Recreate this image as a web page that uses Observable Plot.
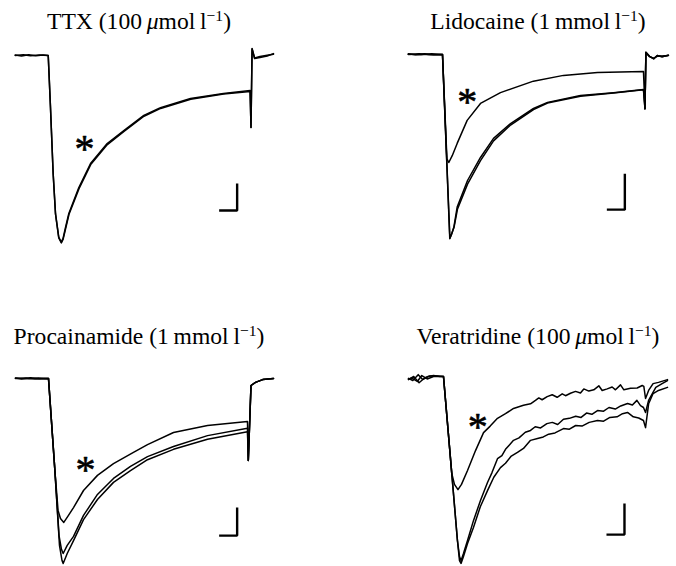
<!DOCTYPE html>
<html>
<head>
<meta charset="utf-8">
<script src="https://cdn.jsdelivr.net/npm/d3@7"></script>
<script src="https://cdn.jsdelivr.net/npm/@observablehq/plot@0.6"></script>
<style>
  body { margin: 0; background: #fff; }
  #wrap { position: relative; width: 676px; height: 566px; overflow: hidden; background: #fff;
          font-family: "Liberation Serif", "Times New Roman", serif; color: #000; }
  .title { position: absolute; width: 340px; text-align: center; font-size: 23.6px; line-height: 23px; white-space: nowrap; }
  .title sup { font-size: 0.66em; vertical-align: 0; position: relative; top: -0.5em; line-height: 0; }
  .panel { position: absolute; }
</style>
</head>
<body>
<div id="wrap"></div>
<script>
// ---- Panel labels ----
const panelDrugs = ["TTX", "Lidocaine", "Procainamide", "Veratridine"];
const panelDoses = ["100", "1", "1", "100"];
const panelUnits = ["μmol", "mmol", "mmol", "μmol"];

// ---- Current traces: [time (ms from pulse onset), current (nA)] ----
// TTX (100 µmol l-1): control and drug traces superimpose
const ttxControl = [
  [-3.7, 0.02], [-3.0, -0.02], [-2.2, 0.03], [-1.4, -0.01], [-0.6, 0.02], [-0.03, 0],
  [0.22, -1.91], [0.52, -4.38], [0.78, -5.86], [1.14, -6.73], [1.41, -6.91], [1.61, -6.78],
  [1.89, -6.37], [2.26, -5.85], [3.37, -4.89], [4.67, -4.0], [6.52, -3.26], [8.37, -2.78],
  [10.59, -2.22], [12.44, -1.93], [15.78, -1.59], [19.44, -1.41], [22.4, -1.30],
  [22.5, -2.67], [22.62, 0.26], [22.9, -0.11], [23.5, -0.07], [24.3, -0.02], [25.0, 0.07]
];
const ttxDrug = [
  [-3.7, 0.0], [-2.8, 0.03], [-2.0, -0.01], [-1.0, 0.02], [-0.03, 0],
  [0.22, -1.93], [0.52, -4.4], [0.78, -5.88], [1.14, -6.76], [1.43, -6.94], [1.63, -6.8],
  [1.91, -6.4], [2.28, -5.88], [3.39, -4.93], [4.69, -4.04], [6.54, -3.3], [8.39, -2.81],
  [10.61, -2.25], [12.46, -1.96], [15.8, -1.62], [19.46, -1.43], [22.4, -1.33],
  [22.5, -2.67], [22.62, 0.24], [22.9, -0.09], [23.5, -0.04], [24.3, 0.01], [25.0, 0.05]
];

// Lidocaine (1 mmol l-1)
const lidoControl1 = [
  [-3.8, 0.02], [-3.0, -0.01], [-2.0, 0.02], [-1.0, -0.01], [0.0, 0],
  [0.81, -5.12], [1.0, -5.0], [1.26, -4.8], [1.63, -4.24], [2.78, -3.5], [4.22, -2.86],
  [5.67, -2.33], [7.56, -1.92], [10.11, -1.5], [11.67, -1.33], [15.33, -1.14], [19.0, -1.06],
  [22.33, -0.97], [22.5, -1.51], [22.6, 0.06], [23.0, -0.05], [23.48, -0.12], [23.86, -0.03],
  [24.4, -0.06], [25.1, -0.02]
];
const lidoControl2 = [
  [-3.8, 0.0], [-2.6, 0.02], [-1.5, -0.01], [0.0, 0],
  [0.82, -5.1], [1.02, -4.98], [1.28, -4.8], [1.66, -4.3], [2.78, -3.6], [4.22, -2.95],
  [5.67, -2.4], [7.56, -1.96], [10.11, -1.53], [11.67, -1.35], [15.33, -1.16], [19.0, -1.07],
  [22.33, -0.98], [22.5, -1.51], [22.6, 0.05], [23.0, -0.06], [23.48, -0.1], [23.86, -0.05],
  [24.4, -0.04], [25.1, -0.03]
];
const lidoDrug = [
  [-3.8, 0.01], [-2.4, -0.01], [-1.2, 0.02], [0.0, 0],
  [0.49, -2.9], [0.7, -3.0], [1.08, -2.81], [1.63, -2.47], [2.74, -1.83], [4.22, -1.36],
  [6.44, -1.06], [10.1, -0.74], [13.44, -0.58], [17.22, -0.5], [22.33, -0.47],
  [22.5, -1.51], [22.6, 0.06], [23.0, -0.05], [23.48, -0.12], [23.86, -0.03], [24.4, -0.06], [25.1, -0.02]
];

// Procainamide (1 mmol l-1)
const procControl1 = [
  [-3.67, 0.02], [-3.0, -0.02], [-2.0, 0.03], [-1.0, -0.01], [0.0, 0],
  [0.71, -3.29], [1.17, -5.61], [1.44, -6.1], [1.63, -6.25], [2.08, -5.96], [2.78, -5.64],
  [3.89, -4.89], [5.44, -4.14], [7.22, -3.57], [9.11, -3.14], [11.0, -2.79], [13.89, -2.43],
  [17.67, -2.04], [22.11, -1.78], [22.2, -2.93], [22.5, -0.25], [23.0, -0.14], [23.8, -0.04], [25.0, 0.0]
];
const procControl2 = [
  [-3.67, 0.0], [-2.5, 0.02], [-1.5, -0.02], [0.0, 0],
  [0.71, -3.29], [1.22, -5.96], [1.5, -6.5], [1.63, -6.61], [2.08, -6.25], [2.78, -5.79],
  [3.89, -5.04], [5.44, -4.32], [7.22, -3.71], [9.11, -3.29], [11.0, -2.9], [13.89, -2.53],
  [17.67, -2.17], [22.11, -1.9], [22.2, -2.93], [22.5, -0.25], [23.0, -0.14], [23.8, -0.04], [25.0, 0.0]
];
const procDrug = [
  [-3.67, 0.01], [-2.2, -0.01], [-1.1, 0.02], [0.0, 0],
  [0.71, -3.29], [1.06, -4.71], [1.33, -5.0], [1.7, -5.14], [2.22, -4.89], [2.78, -4.61],
  [3.89, -4.0], [5.44, -3.46], [7.22, -3.04], [9.44, -2.64], [11.0, -2.36], [13.89, -1.93],
  [17.67, -1.68], [22.11, -1.54], [22.2, -2.93], [22.5, -0.25], [23.0, -0.14], [23.8, -0.04], [25.0, 0.0]
];

// Veratridine (100 µmol l-1)
const veraControl1 = [
  [-3.78, -0.1], [-3.2, 0.0], [-2.6, -0.2], [-2.0, -0.05], [-1.4, 0.02], [-0.6, 0.02], [0.11, 0.0],
  [1.03, -3.13], [1.66, -5.29], [1.89, -5.81], [2.06, -5.94], [2.33, -5.71], [2.78, -5.29],
  [3.44, -4.65], [4.22, -4.0], [5.0, -3.42], [5.5, -3.1], [6.11, -2.65], [6.6, -2.55], [7.0, -2.35],
  [7.89, -2.06], [8.5, -1.98], [9.2, -1.8], [9.78, -1.74], [10.3, -1.62], [10.9, -1.66], [11.6, -1.52],
  [12.2, -1.48], [12.8, -1.55], [13.44, -1.38], [14.1, -1.35], [14.8, -1.28], [15.4, -1.32], [16.0, -1.18],
  [16.6, -1.22], [17.22, -1.1], [17.9, -1.12], [18.5, -1.0], [19.2, -1.05], [19.8, -0.95], [20.56, -0.87],
  [21.1, -0.92], [21.6, -0.77], [22.0, -0.94], [22.33, -1.0], [22.56, -1.16], [22.9, -0.77],
  [23.7, -0.35], [24.4, -0.23], [25.0, -0.13]
];
const veraControl2 = [
  [-3.78, -0.08], [-3.4, -0.05], [-2.8, -0.16], [-2.3, 0.03], [-1.7, -0.08], [-1.0, 0.0], [0.11, 0.0],
  [1.03, -3.13], [1.66, -5.29], [1.89, -5.94], [2.06, -6.03], [2.33, -5.81], [2.78, -5.39],
  [3.44, -4.87], [4.2, -4.2], [5.0, -3.68], [5.7, -3.25], [6.44, -2.94], [7.0, -2.8], [7.6, -2.58],
  [8.33, -2.45], [9.0, -2.32], [9.78, -2.06], [10.56, -2.0], [11.2, -1.95], [11.8, -1.86], [12.5, -1.82],
  [13.44, -1.68], [14.1, -1.7], [14.8, -1.58], [15.5, -1.6], [16.3, -1.48], [17.22, -1.42], [17.9, -1.44],
  [18.6, -1.32], [19.4, -1.3], [20.0, -1.2], [20.56, -1.16], [21.2, -1.3], [21.8, -1.34], [22.33, -1.42],
  [22.56, -1.65], [22.9, -0.88], [23.4, -0.55], [24.0, -0.45], [25.0, -0.35]
];
const veraDrug = [
  [-3.78, -0.06], [-3.3, -0.13], [-2.7, 0.06], [-2.2, -0.1], [-1.6, 0.0], [-1.0, 0.03], [-0.3, 0.0], [0.11, 0.0],
  [1.03, -3.13], [1.33, -3.48], [1.72, -3.65], [2.11, -3.48], [2.78, -3.03], [3.67, -2.39], [4.56, -1.81],
  [5.3, -1.6], [6.11, -1.35], [7.0, -1.2], [7.89, -1.03], [9.0, -0.93], [9.78, -0.88], [10.33, -0.77],
  [10.7, -0.69], [11.07, -0.75], [11.63, -0.65], [12.19, -0.59], [12.74, -0.67], [13.3, -0.56], [13.67, -0.62],
  [14.22, -0.54], [14.78, -0.48], [15.33, -0.53], [15.7, -0.4], [16.26, -0.47], [16.81, -0.43], [17.37, -0.3],
  [17.74, -0.45], [18.3, -0.4], [18.85, -0.34], [19.22, -0.43], [19.78, -0.27], [20.15, -0.43], [20.89, -0.38],
  [21.63, -0.37], [22.19, -0.29], [22.37, -0.32], [22.56, -0.71], [22.9, -0.45], [23.4, -0.23], [24.0, -0.19], [25.0, -0.1]
];

// Asterisks mark the trace recorded in the drug
const asteriskTimes = [4.0, 2.74, 4.11, 3.92];
const asteriskCurrents = [-3.30, -1.19, -3.11, -1.47];

// Scale bars: 2 ms, 1 nA (corner position)
const barCornerTimes = [20.96, 20.26, 20.96, 20.22];
const barCornerCurrents = [-5.74, -4.31, -5.61, -5.10];
const barTime = 2;
const barCurrent = 1;

const panelTraces = [
  {control1: ttxControl, drug: ttxDrug},
  {control1: lidoControl1, control2: lidoControl2, drug: lidoDrug},
  {control1: procControl1, control2: procControl2, drug: procDrug},
  {control1: veraControl1, control2: veraControl2, drug: veraDrug}
];

// ---- Layout (pixels) ----
const layout = [
  {left: 0,   top: 40,  height: 210, x: [-48 / 9, 290 / 9],  y: [-195 / 27, 15 / 27], titleCenter: 139, titleTop: 10},
  {left: 338, top: 40,  height: 210, x: [-104 / 9, 234 / 9], y: [-196 / 36, 14 / 36], titleCenter: 538, titleTop: 10},
  {left: 0,   top: 355, height: 211, x: [-48 / 9, 290 / 9],  y: [-188 / 28, 23 / 28], titleCenter: 139, titleTop: 325},
  {left: 338, top: 355, height: 211, x: [-104 / 9, 234 / 9], y: [-190 / 31, 21 / 31], titleCenter: 538, titleTop: 325}
];

const wrap = document.getElementById("wrap");

layout.forEach((L, p) => {
  // title
  const title = document.createElement("div");
  title.className = "title";
  title.style.left = (L.titleCenter - 170) + "px";
  title.style.top = L.titleTop + "px";
  const unit = panelUnits[p].startsWith("μ")
    ? "<i>μ</i>" + panelUnits[p].slice(1)
    : panelUnits[p];
  title.innerHTML = `${panelDrugs[p]} (${panelDoses[p]}&thinsp;${unit}&thinsp;l<sup>−1</sup>)`;
  wrap.appendChild(title);

  // traces
  const rows = [];
  for (const [name, pts] of Object.entries(panelTraces[p])) {
    for (const [t, i] of pts) rows.push({trace: name, t, i});
  }
  const ct = barCornerTimes[p], ci = barCornerCurrents[p];
  const bar = [
    {t: ct - barTime, i: ci},
    {t: ct, i: ci},
    {t: ct, i: ci + barCurrent}
  ];
  const star = [{t: asteriskTimes[p], i: asteriskCurrents[p], label: "*"}];

  const svg = Plot.plot({
    width: 338,
    height: L.height,
    margin: 0,
    style: {background: "transparent", overflow: "visible"},
    x: {domain: L.x, axis: null},
    y: {domain: L.y, axis: null},
    marks: [
      Plot.line(rows, {x: "t", y: "i", z: "trace", stroke: "#000", strokeWidth: 1.5,
                       strokeLinejoin: "round", strokeLinecap: "round"}),
      Plot.line(bar, {x: "t", y: "i", stroke: "#000", strokeWidth: 2.4,
                      strokeLinejoin: "miter", strokeLinecap: "butt"}),
      Plot.text(star, {x: "t", y: "i", text: "label", fontSize: 40,
                       fontFamily: "Liberation Serif", fill: "#000", stroke: "#000",
                       strokeWidth: 0.6, dy: 5})
    ]
  });
  svg.classList.add("panel");
  svg.style.left = L.left + "px";
  svg.style.top = L.top + "px";
  wrap.appendChild(svg);
});
</script>
</body>
</html>
